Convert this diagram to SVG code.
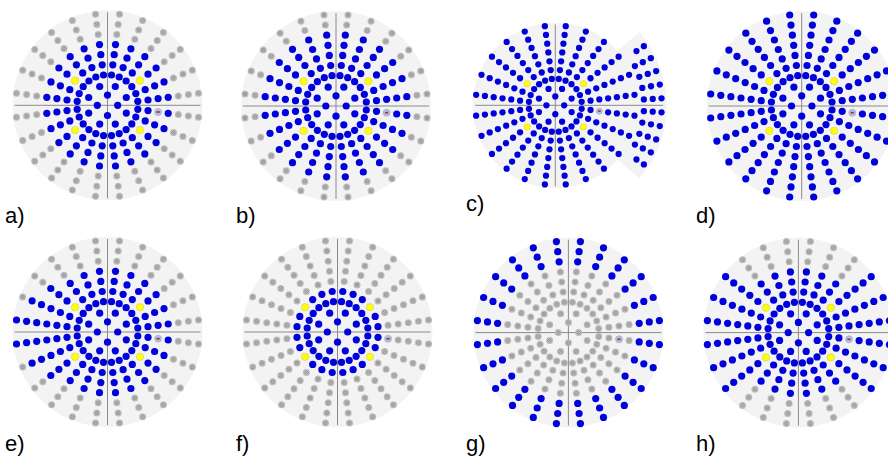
<svg xmlns="http://www.w3.org/2000/svg" xmlns:xlink="http://www.w3.org/1999/xlink" width="888" height="460" viewBox="0 0 888 460">
<style>
.pt{fill:none;stroke:none}
.pb{marker-start:url(#mb);marker-mid:url(#mb);marker-end:url(#mb)}
.pg{marker-start:url(#mg);marker-mid:url(#mg);marker-end:url(#mg)}
.py{marker-start:url(#my);marker-mid:url(#my);marker-end:url(#my)}
.bg{fill:#f3f3f3}
.ax{stroke:#8a8a8a;stroke-width:1;vector-effect:non-scaling-stroke}
.lbl{font-family:"Liberation Sans",Arial,sans-serif;font-size:22px;fill:#000}
</style>
<defs>
<marker id="mb" markerUnits="userSpaceOnUse" markerWidth="10" markerHeight="10" refX="5" refY="5" overflow="visible"><circle cx="5" cy="5" r="3.6" fill="#0000dc"/></marker>
<marker id="mg" markerUnits="userSpaceOnUse" markerWidth="10" markerHeight="10" refX="5" refY="5" overflow="visible"><circle cx="5" cy="5" r="3.5" fill="#bcbcbc"/><circle cx="5" cy="5" r="1.7" fill="#d0d0d0" stroke="#808080" stroke-width=".6"/><path d="M3.9 3.9L6.1 6.1M6.1 3.9L3.9 6.1" stroke="#808080" stroke-width=".6"/></marker>
<marker id="my" markerUnits="userSpaceOnUse" markerWidth="10" markerHeight="10" refX="5" refY="5" overflow="visible"><circle cx="5" cy="5" r="3.7" fill="#ffff00" stroke="#c9c98a" stroke-width=".6"/></marker>
<g id="bs"><circle cx="50.6" cy="6.7" r="3.5" fill="#a9c6e6" stroke="#8fa8c8" stroke-width=".6"/><rect x="49" y="5.8" width="3.2" height="1.8" fill="#e02020"/></g>
<path id="r1" class="pt" d="M10.2 0 0 -10.2 -10.2 0 0 10.2"/>
<path id="r2" class="pt" d="M18.8 -7.8 7.8 -18.8 -7.8 -18.8 -18.8 -7.8 -18.8 7.8 -7.8 18.8 7.8 18.8 18.8 7.8"/>
<path id="r3" class="pt" d="M30.3 -4 28.3 -11.7 24.3 -18.6 18.6 -24.3 11.7 -28.3 4 -30.3 -4 -30.3 -11.7 -28.3 -18.6 -24.3 -24.3 -18.6 -28.3 -11.7 -30.3 -4 -30.3 4 -28.3 11.7 -24.3 18.6 -18.6 24.3 -11.7 28.3 -4 30.3 4 30.3 11.7 28.3 18.6 24.3 24.3 18.6 28.3 11.7 30.3 4"/>
<path id="r4" class="pt" d="M40.5 -5.3 37.7 -15.6 24.8 -32.4 15.6 -37.7 5.3 -40.5 -5.3 -40.5 -15.6 -37.7 -24.8 -32.4 -37.7 -15.6 -40.5 -5.3 -40.5 5.3 -37.7 15.6 -24.8 32.4 -15.6 37.7 -5.3 40.5 5.3 40.5 15.6 37.7 24.8 32.4 37.7 15.6 40.5 5.3"/>
<path id="yel" class="pt" d="M32.4 -24.8 -32.4 -24.8 -32.4 24.8 32.4 24.8"/>
<path id="r5" class="pt" d="M50.6 -6.7 47.1 -19.5 40.5 -31.1 31.1 -40.5 19.5 -47.1 6.7 -50.6 -6.7 -50.6 -19.5 -47.1 -31.1 -40.5 -40.5 -31.1 -47.1 -19.5 -50.6 -6.7 -50.6 6.7 -47.1 19.5 -40.5 31.1 -31.1 40.5 -19.5 47.1 -6.7 50.6 6.7 50.6 19.5 47.1 31.1 40.5 40.5 31.1 47.1 19.5"/>
<path id="r6" class="pt" d="M60.7 -8 56.5 -23.4 48.6 -37.3 37.3 -48.6 23.4 -56.5 8 -60.7 -8 -60.7 -23.4 -56.5 -37.3 -48.6 -48.6 -37.3 -56.5 -23.4 -60.7 -8 -60.7 8 -56.5 23.4 -48.6 37.3 -37.3 48.6 -23.4 56.5 -8 60.7 8 60.7 23.4 56.5 37.3 48.6 48.6 37.3 56.5 23.4 60.7 8"/>
<path id="s7" class="pt" d="M43.5 -56.7 27.3 -66 9.3 -70.8 -9.3 -70.8 -27.3 -66 -43.5 -56.7 -43.5 56.7 -27.3 66 -9.3 70.8 9.3 70.8 27.3 66 43.5 56.7"/>
<path id="s8" class="pt" d="M49.7 -64.7 31.2 -75.4 10.7 -80.9 -10.7 -80.9 -31.2 -75.4 -49.7 -64.7 -49.7 64.7 -31.2 75.4 -10.7 80.9 10.7 80.9 31.2 75.4 49.7 64.7"/>
<path id="s9" class="pt" d="M55.9 -72.8 35.1 -84.8 12 -91 -12 -91 -35.1 -84.8 -55.9 -72.8 -55.9 72.8 -35.1 84.8 -12 91 12 91 35.1 84.8 55.9 72.8"/>
<path id="rs7" class="pt" d="M70.8 -9.3 66 -27.3 56.7 -43.5 70.8 9.3 66 27.3 56.7 43.5"/>
<path id="rs8" class="pt" d="M80.9 -10.7 75.4 -31.2 64.7 -49.7 80.9 10.7 75.4 31.2 64.7 49.7"/>
<path id="rs9" class="pt" d="M91 -12 84.8 -35.1 72.8 -55.9 91 12 84.8 35.1 72.8 55.9"/>
<path id="la7" class="pt" d="M-70.8 -9.3 -70.8 9.3"/>
<path id="la8" class="pt" d="M-80.9 -10.7 -80.9 10.7"/>
<path id="la9" class="pt" d="M-91 -12 -91 12"/>
<path id="lb7" class="pt" d="M-66 -27.3 -66 27.3"/>
<path id="lb8" class="pt" d="M-75.4 -31.2 -75.4 31.2"/>
<path id="lb9" class="pt" d="M-84.8 -35.1 -84.8 35.1"/>
<path id="lc7" class="pt" d="M-56.7 -43.5 -56.7 43.5"/>
<path id="lc8" class="pt" d="M-64.7 -49.7 -64.7 49.7"/>
<path id="lc9" class="pt" d="M-72.8 -55.9 -72.8 55.9"/>
<path id="xc" class="pt" d="M101.8 -6.7 100 -19.9 96.6 -32.8 91.5 -45.1 112 -7.3 110 -21.9 106.3 -36.1 100.6 -49.6 93.3 -62.3 122.1 -8 120.1 -23.9 115.9 -39.3 109.8 -54.1 101.8 -68 101.8 6.7 100 19.9 96.6 32.8 91.5 45.1 112 7.3 110 21.9 106.3 36.1 100.6 49.6 93.3 62.3 122.1 8 120.1 23.9 115.9 39.3 109.8 54.1 101.8 68"/>
<g id="in"><use href="#r1"/><use href="#r2"/><use href="#r3"/><use href="#r4"/></g>
<g id="g7"><use href="#s7"/><use href="#rs7"/><use href="#la7"/><use href="#lb7"/><use href="#lc7"/></g>
<g id="g8"><use href="#s8"/><use href="#rs8"/><use href="#la8"/><use href="#lb8"/><use href="#lc8"/></g>
<g id="g9"><use href="#s9"/><use href="#rs9"/><use href="#la9"/><use href="#lb9"/><use href="#lc9"/></g>
<g id="frame"><circle r="95" class="bg"/><line class="ax" x1="-93" y1="0" x2="93" y2="0"/><line class="ax" x1="0" y1="-93" x2="0" y2="93"/></g>
</defs>

<g id="panel-a" transform="translate(107.5,105.3)">
<use href="#frame"/>
<g class="pb"><use href="#in"/><use href="#r5"/><use href="#r6"/></g>
<g class="pg"><use href="#g7"/><use href="#g8"/><use href="#g9"/></g>
<use href="#yel" class="py"/><use href="#bs"/>
</g>

<g id="panel-b" transform="translate(336,106)">
<use href="#frame"/>
<g class="pb"><use href="#in"/><use href="#r5"/><use href="#r6"/><use href="#g7"/></g>
<g class="pg"><use href="#g8"/><use href="#g9"/></g>
<use href="#yel" class="py"/><use href="#bs"/>
</g>

<g id="panel-c" transform="translate(555.3,105.3) scale(0.87)">
<circle r="95" class="bg"/>
<path class="bg" d="M0 0L96.6 -84A128 128 0 0 1 96.6 84Z"/>
<line class="ax" x1="-92" y1="0" x2="124" y2="0"/><line class="ax" x1="0" y1="-93" x2="0" y2="93"/>
<g class="pb"><use href="#in"/><use href="#r5"/><use href="#r6"/><use href="#g7"/><use href="#g8"/><use href="#g9"/><use href="#xc"/></g>
<use href="#yel" class="py"/><use href="#bs"/>
</g>

<g id="panel-d" transform="translate(801.7,106)">
<use href="#frame"/>
<g class="pb"><use href="#in"/><use href="#r5"/><use href="#r6"/><use href="#g7"/><use href="#g8"/><use href="#g9"/></g>
<use href="#yel" class="py"/><use href="#bs"/>
</g>

<g id="panel-e" transform="translate(107.5,332)">
<use href="#frame"/>
<g class="pb"><use href="#in"/><use href="#r5"/><use href="#r6"/><use href="#la7"/><use href="#lb7"/><use href="#lc7"/><use href="#la8"/><use href="#lb8"/><use href="#la9"/></g>
<g class="pg"><use href="#s7"/><use href="#s8"/><use href="#s9"/><use href="#rs7"/><use href="#rs8"/><use href="#rs9"/><use href="#lc8"/><use href="#lb9"/><use href="#lc9"/></g>
<use href="#yel" class="py"/><use href="#bs"/>
</g>

<g id="panel-f" transform="translate(337.5,332)">
<use href="#frame"/>
<g class="pb"><use href="#in"/></g>
<g class="pg"><use href="#r5"/><use href="#r6"/><use href="#g7"/><use href="#g8"/><use href="#g9"/></g>
<use href="#yel" class="py"/><use href="#bs"/>
</g>

<g id="panel-g" transform="translate(568.4,332.6)">
<use href="#frame"/>
<g class="pg"><use href="#in"/><use href="#yel"/><use href="#r5"/><use href="#r6"/></g>
<g class="pb"><use href="#g7"/><use href="#g8"/><use href="#g9"/></g>
<use href="#bs"/>
</g>

<g id="panel-h" transform="translate(798.4,332.6)">
<use href="#frame"/>
<g class="pb"><use href="#in"/><use href="#r5"/><use href="#r6"/><use href="#rs7"/><use href="#rs8"/><use href="#rs9"/><use href="#la7"/><use href="#la8"/><use href="#la9"/><use href="#lb7"/><use href="#lb8"/><use href="#lb9"/><use href="#lc7"/><use href="#lc8"/><use href="#lc9"/></g>
<g class="pg"><use href="#s7"/><use href="#s8"/><use href="#s9"/></g>
<use href="#yel" class="py"/><use href="#bs"/>
</g>

<g id="labels">
<text class="lbl" x="5" y="223">a)</text>
<text class="lbl" x="236" y="223">b)</text>
<text class="lbl" x="466" y="211">c)</text>
<text class="lbl" x="696" y="223">d)</text>
<text class="lbl" x="5" y="451">e)</text>
<text class="lbl" x="236" y="451">f)</text>
<text class="lbl" x="466" y="451">g)</text>
<text class="lbl" x="696" y="451">h)</text>
</g>
</svg>
